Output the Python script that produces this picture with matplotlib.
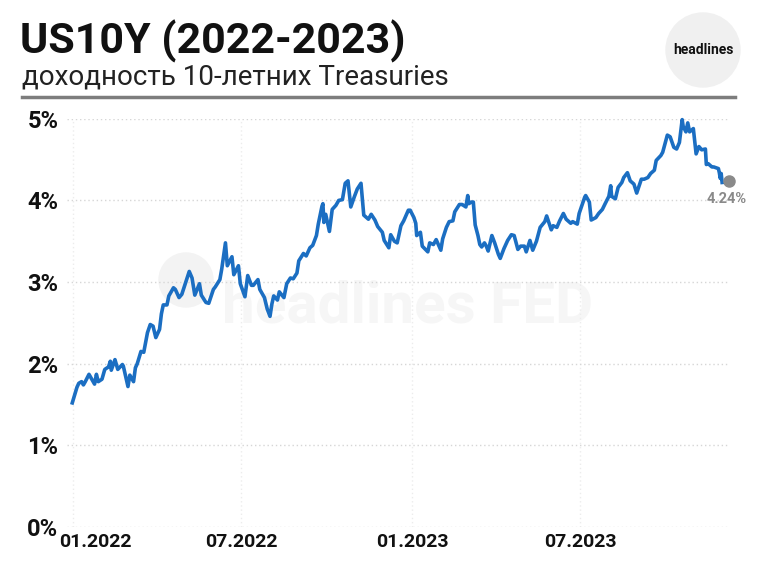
import numpy as np
import pandas as pd
import matplotlib.pyplot as plt
from matplotlib.patches import Circle
from matplotlib.transforms import ScaledTranslation, offset_copy

plt.rcParams['font.family'] = ['Roboto', 'DejaVu Sans']

# US10Y yield, % (about two points a week)
dates = [
    '2021-12-31', '2022-01-05', '2022-01-07', '2022-01-10', '2022-01-12', '2022-01-14',
    '2022-01-18', '2022-01-20', '2022-01-24', '2022-01-26', '2022-01-28', '2022-02-01',
    '2022-02-04', '2022-02-08', '2022-02-10', '2022-02-11', '2022-02-15', '2022-02-18',
    '2022-02-23', '2022-02-24', '2022-03-01', '2022-03-03', '2022-03-07', '2022-03-09',
    '2022-03-11', '2022-03-15', '2022-03-18', '2022-03-22', '2022-03-25', '2022-03-28',
    '2022-03-31', '2022-04-04', '2022-04-06', '2022-04-08', '2022-04-12', '2022-04-14',
    '2022-04-19', '2022-04-21', '2022-04-25', '2022-04-28', '2022-05-02', '2022-05-06',
    '2022-05-09', '2022-05-11', '2022-05-12', '2022-05-17', '2022-05-19', '2022-05-24',
    '2022-05-27', '2022-06-01', '2022-06-03', '2022-06-08', '2022-06-10', '2022-06-14',
    '2022-06-16', '2022-06-21', '2022-06-23', '2022-06-28', '2022-06-30', '2022-07-05',
    '2022-07-08', '2022-07-12', '2022-07-14', '2022-07-19', '2022-07-21', '2022-07-26',
    '2022-07-29', '2022-08-01', '2022-08-03', '2022-08-05', '2022-08-09', '2022-08-11',
    '2022-08-16', '2022-08-19', '2022-08-23', '2022-08-26', '2022-08-30', '2022-09-01',
    '2022-09-06', '2022-09-09', '2022-09-13', '2022-09-16', '2022-09-20', '2022-09-22',
    '2022-09-26', '2022-09-27', '2022-09-28', '2022-09-30', '2022-10-04', '2022-10-07',
    '2022-10-11', '2022-10-14', '2022-10-18', '2022-10-21', '2022-10-24', '2022-10-27',
    '2022-10-31', '2022-11-03', '2022-11-07', '2022-11-10', '2022-11-15', '2022-11-18',
    '2022-11-22', '2022-11-25', '2022-11-30', '2022-12-02', '2022-12-07', '2022-12-09',
    '2022-12-13', '2022-12-16', '2022-12-20', '2022-12-23', '2022-12-28', '2022-12-30',
    '2023-01-03', '2023-01-05', '2023-01-06', '2023-01-10', '2023-01-12', '2023-01-18',
    '2023-01-20', '2023-01-24', '2023-01-27', '2023-02-01', '2023-02-03', '2023-02-07',
    '2023-02-10', '2023-02-14', '2023-02-16', '2023-02-21', '2023-02-24', '2023-02-28',
    '2023-03-02', '2023-03-03', '2023-03-06', '2023-03-08', '2023-03-10', '2023-03-13',
    '2023-03-15', '2023-03-17', '2023-03-20', '2023-03-22', '2023-03-24', '2023-03-28',
    '2023-03-31', '2023-04-04', '2023-04-06', '2023-04-10', '2023-04-14', '2023-04-18',
    '2023-04-21', '2023-04-25', '2023-04-28', '2023-05-02', '2023-05-04', '2023-05-08',
    '2023-05-11', '2023-05-15', '2023-05-19', '2023-05-24', '2023-05-26', '2023-05-31',
    '2023-06-02', '2023-06-06', '2023-06-09', '2023-06-13', '2023-06-16', '2023-06-21',
    '2023-06-23', '2023-06-28', '2023-06-30', '2023-07-06', '2023-07-07', '2023-07-11',
    '2023-07-13', '2023-07-18', '2023-07-21', '2023-07-25', '2023-07-28', '2023-08-01',
    '2023-08-03', '2023-08-04', '2023-08-08', '2023-08-11', '2023-08-15', '2023-08-17',
    '2023-08-21', '2023-08-24', '2023-08-28', '2023-08-31', '2023-09-05', '2023-09-08',
    '2023-09-12', '2023-09-15', '2023-09-19', '2023-09-21', '2023-09-26', '2023-09-28',
    '2023-10-03', '2023-10-06', '2023-10-10', '2023-10-13', '2023-10-16', '2023-10-19',
    '2023-10-20', '2023-10-23', '2023-10-25', '2023-10-27', '2023-10-31', '2023-11-02',
    '2023-11-03', '2023-11-06', '2023-11-09', '2023-11-13', '2023-11-14', '2023-11-16',
    '2023-11-20', '2023-11-22', '2023-11-27', '2023-11-28', '2023-11-29', '2023-11-30',
    '2023-12-01',
]
yields = [
    1.52, 1.71, 1.76, 1.78, 1.74, 1.78,
    1.87, 1.83, 1.75, 1.87, 1.78, 1.81,
    1.93, 1.96, 2.03, 1.92, 2.05, 1.93,
    1.99, 1.97, 1.72, 1.86, 1.78, 1.95,
    2.00, 2.15, 2.14, 2.38, 2.48, 2.46,
    2.32, 2.42, 2.61, 2.72, 2.72, 2.83,
    2.93, 2.91, 2.81, 2.85, 2.99, 3.13,
    3.05, 2.91, 2.84, 2.98, 2.84, 2.75,
    2.74, 2.91, 2.94, 3.03, 3.16, 3.48,
    3.20, 3.31, 3.09, 3.20, 2.98, 2.82,
    3.08, 2.96, 2.96, 3.03, 2.91, 2.81,
    2.67, 2.58, 2.73, 2.83, 2.78, 2.88,
    2.81, 2.98, 3.05, 3.04, 3.11, 3.26,
    3.35, 3.32, 3.42, 3.45, 3.57, 3.71,
    3.93, 3.96, 3.73, 3.83, 3.62, 3.89,
    3.94, 4.00, 4.01, 4.21, 4.24, 3.92,
    4.05, 4.14, 4.21, 3.82, 3.77, 3.83,
    3.76, 3.68, 3.61, 3.51, 3.42, 3.58,
    3.50, 3.48, 3.69, 3.75, 3.88, 3.88,
    3.79, 3.72, 3.57, 3.61, 3.44, 3.37,
    3.48, 3.46, 3.52, 3.39, 3.53, 3.67,
    3.74, 3.75, 3.86, 3.95, 3.95, 3.92,
    4.06, 3.96, 3.98, 3.98, 3.70, 3.57,
    3.46, 3.43, 3.48, 3.44, 3.38, 3.57,
    3.48, 3.34, 3.29, 3.41, 3.51, 3.58,
    3.57, 3.40, 3.44, 3.44, 3.37, 3.51,
    3.39, 3.50, 3.67, 3.74, 3.81, 3.64,
    3.69, 3.67, 3.75, 3.84, 3.77, 3.72,
    3.74, 3.71, 3.84, 4.04, 4.06, 3.98,
    3.76, 3.79, 3.84, 3.89, 3.96, 4.05,
    4.18, 4.05, 4.02, 4.16, 4.22, 4.28,
    4.34, 4.24, 4.20, 4.09, 4.26, 4.26,
    4.28, 4.33, 4.37, 4.49, 4.55, 4.59,
    4.80, 4.78, 4.65, 4.63, 4.71, 4.99,
    4.91, 4.84, 4.95, 4.84, 4.88, 4.67,
    4.57, 4.66, 4.62, 4.63, 4.44, 4.45,
    4.41, 4.41, 4.39, 4.34, 4.27, 4.33,
    4.22,
]
last_value = 4.24
last_label = '4.24%'

tick_dates = ['2022-01-01', '2022-07-01', '2023-01-01', '2023-07-01']
tick_labels = ['01.2022', '07.2022', '01.2023', '07.2023']
y_ticks = [0, 1, 2, 3, 4, 5]

df = pd.DataFrame({'date': pd.to_datetime(dates), 'y': yields})

fig = plt.figure(figsize=(7.58, 5.63), dpi=100)
ax = fig.add_axes([0.088, 0.064, 0.872, 0.725])

# watermark
ax.text(0.515, 0.54, 'headlines FED', transform=ax.transAxes, ha='center', va='center',
        fontsize=42, fontweight='bold', color='#f6f6f6', zorder=0)
ax.add_patch(Circle((186, 283), 27, transform=None, color='#f3f3f3', zorder=0))

ax.plot(df['date'], df['y'], color='#1b6ec2', lw=2.6, solid_joinstyle='round',
        clip_on=False, zorder=3)

# end marker, a bit to the right of the last point
dot_tr = offset_copy(ax.transData, fig=fig, x=5, y=0, units='points')
ax.plot(df['date'].iloc[-1], last_value, 'o', color='#8a8a8a', ms=8, transform=dot_tr,
        clip_on=False, zorder=4)
lab_tr = offset_copy(ax.transData, fig=fig, x=3, y=-8, units='points')
ax.text(df['date'].iloc[-1], last_value, last_label, transform=lab_tr, ha='center',
        va='top', fontsize=10.5, fontweight='bold', color='#8a8a8a', zorder=4)

ax.set_ylim(0, 5)
ax.set_xlim(pd.Timestamp('2021-12-25'), pd.Timestamp('2023-12-07'))
ax.set_yticks(y_ticks)
ax.set_yticklabels([f'{v}%' for v in y_ticks])
ax.set_xticks(pd.to_datetime(tick_dates))
ax.set_xticklabels(tick_labels)

for s in ax.spines.values():
    s.set_visible(False)
ax.tick_params(length=0)
ax.tick_params(axis='y', labelsize=17, pad=6)
ax.tick_params(axis='x', labelsize=14, pad=4)
for lab in ax.get_yticklabels() + ax.get_xticklabels():
    lab.set_fontweight('bold')
    lab.set_color('#111111')
first = ax.get_xticklabels()[0]
first.set_transform(first.get_transform() + ScaledTranslation(0.22, 0, fig.dpi_scale_trans))

ax.grid(axis='y', color='#d6d6d6', ls=(0, (1, 2)), lw=1)
ax.grid(axis='x', color='#ececec', ls=(0, (1, 2)), lw=1)
ax.set_axisbelow(True)

# header
fig.text(0.027, 0.965, 'US10Y (2022-2023)', fontsize=31, fontweight='bold',
         color='#111111', va='top')
fig.text(0.029, 0.888, 'доходность 10-летних Treasuries', fontsize=20,
         color='#222222', va='top')
fig.add_artist(plt.Line2D([0.029, 0.970], [0.827, 0.827], color='#7d7d7d', lw=2.5))
fig.add_artist(Circle((703, 563 - 50), 37, color='#f0f0f0', transform=None))
fig.text(703 / 758, 1 - 50 / 563, 'headlines', fontsize=10, fontweight='bold',
         color='#111111', ha='center', va='center', fontstretch='condensed')

fig.savefig('out.png', dpi=100)
